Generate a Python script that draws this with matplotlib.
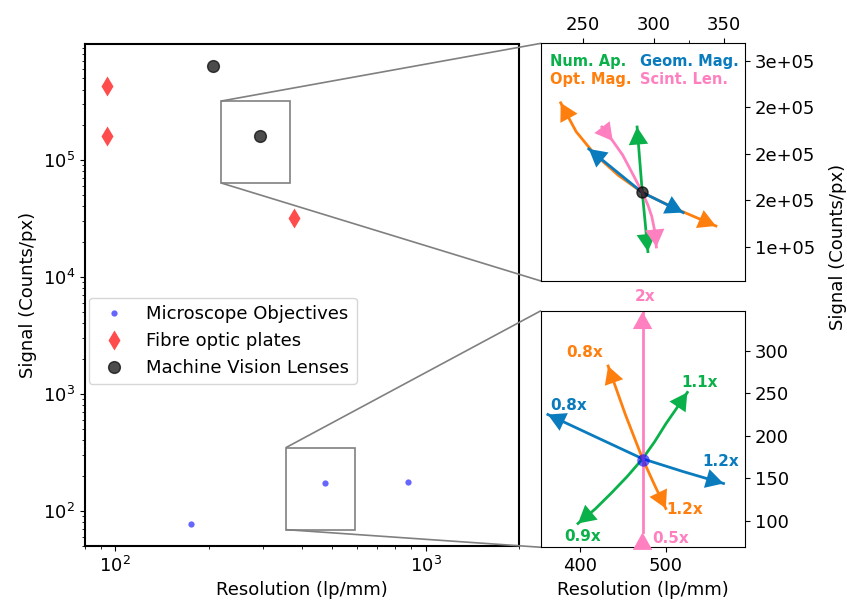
import numpy as np
import matplotlib
matplotlib.use('Agg')
import matplotlib.pyplot as plt
from matplotlib.ticker import FormatStrFormatter
from mpl_toolkits.axes_grid1.inset_locator import mark_inset

plt.rcParams['font.size'] = 13

#main data
obj_res = [176, 473, 877]
obj_sig = [77, 172, 176]
fop_res = [94, 94, 378]
fop_sig = [4.25e5, 1.61e5, 3.2e4]
mvl_res = [206.6, 292]
mvl_sig = [6.3e5, 1.586e5]

#colours for the parameter sweeps
c_na = '#0ab14a'
c_gm = '#0a7bbd'
c_om = '#ff7f0e'
c_sl = '#ff80c0'

#machine vision lens sweeps (top inset)
mv_na_x = [288.3, 292, 296]
mv_na_y = [2.29e5, 1.586e5, 0.95e5]
mv_gm_x = [254, 292, 321]
mv_gm_y = [2.054e5, 1.586e5, 1.37e5]
mv_om_x = [234, 245, 258, 275, 292, 316, 344.3]
mv_om_y = [2.55e5, 2.24e5, 2.0e5, 1.77e5, 1.586e5, 1.41e5, 1.226e5]
mv_sl_x = [263.3, 271, 278, 285, 292, 296, 298.7, 301, 302]
mv_sl_y = [2.29e5, 2.14e5, 1.99e5, 1.79e5, 1.586e5, 1.45e5, 1.33e5, 1.16e5, 1.0e5]

#microscope objective sweeps (bottom inset)
mo_na_x = [398, 418, 437, 455, 473, 487, 500, 513, 525]
mo_na_y = [97, 114, 133, 152, 173, 193, 214, 233, 251]
mo_gm_x = [363, 420, 473, 520, 567]
mo_gm_y = [225, 198, 173, 158, 144]
mo_om_x = [433, 453, 473, 487, 500]
mo_om_y = [282, 225, 173, 142, 114.6]
mo_sl_x = [473, 473, 473]
mo_sl_y = [86.5, 173, 346]


def head(ax, xy, xytext, c):
    #arrow head only, tip at xy
    ax.annotate('', xy=xy, xytext=xytext, annotation_clip=False,
                arrowprops=dict(arrowstyle='-|>,head_length=0.45,head_width=0.25',
                                color=c, lw=0, mutation_scale=28,
                                shrinkA=0, shrinkB=0))


def sweep(ax, x, y, c, both=True):
    ax.plot(x, y, color=c, lw=2, zorder=2)
    head(ax, (x[-1], y[-1]), (x[-2], y[-2]), c)
    if both:
        head(ax, (x[0], y[0]), (x[1], y[1]), c)


fig = plt.figure(figsize=(8.47, 6.06), dpi=100)
ax = fig.add_axes([0.1004, 0.099, 0.5124, 0.8284])

ax.plot(obj_res, obj_sig, 'o', color='blue', alpha=0.6, ms=4.5, mec='none',
        label='Microscope Objectives')
ax.plot(fop_res, fop_sig, 'd', color='red', alpha=0.7, ms=10.5, mec='none',
        label='Fibre optic plates')
ax.plot(mvl_res, mvl_sig, 'o', color='black', alpha=0.7, ms=8.5,
        label='Machine Vision Lenses')
ax.set_xscale('log')
ax.set_yscale('log')
ax.set_xlim(80, 2000)
ax.set_ylim(50, 9.8e5)
ax.set_xlabel('Resolution (lp/mm)')
ax.set_ylabel('Signal (Counts/px)')
ax.legend(loc='upper left', bbox_to_anchor=(0.0, 0.502), borderaxespad=0.2)
for s in ax.spines.values():
    s.set_linewidth(1.5)

#top inset
ax1 = fig.add_axes([0.6387, 0.5363, 0.2409, 0.3922])
sweep(ax1, mv_om_x, mv_om_y, c_om)
sweep(ax1, mv_gm_x, mv_gm_y, c_gm)
sweep(ax1, mv_na_x, mv_na_y, c_na)
ax1.plot(mv_sl_x, mv_sl_y, color=c_sl, lw=2, zorder=2)
head(ax1, (mv_sl_x[1], mv_sl_y[1]), (mv_sl_x[0], mv_sl_y[0]), c_sl)
head(ax1, (mv_sl_x[-1], mv_sl_y[-1]), (mv_sl_x[-2], mv_sl_y[-2]), c_sl)
ax1.plot(mvl_res[1], mvl_sig[1], 'o', color='black', alpha=0.7, ms=8, zorder=3)
ax1.set_xlim(220, 365)
ax1.set_ylim(0.634e5, 3.19e5)
ax1.xaxis.tick_top()
ax1.yaxis.tick_right()
ax1.set_xticks([250, 300, 350])
ax1.set_xticks([325], minor=True)
ax1.set_yticks([1e5, 1.5e5, 2e5, 2.5e5, 3e5])
ax1.yaxis.set_major_formatter(FormatStrFormatter('%.0e'))
kw = dict(transform=ax1.transAxes, fontsize=10.5, fontweight='bold', va='center')
ax1.text(0.044, 0.922, 'Num. Ap.', color=c_na, **kw)
ax1.text(0.485, 0.922, 'Geom. Mag.', color=c_gm, **kw)
ax1.text(0.044, 0.848, 'Opt. Mag.', color=c_om, **kw)
ax1.text(0.485, 0.848, 'Scint. Len.', color=c_sl, **kw)

#bottom inset
ax2 = fig.add_axes([0.6387, 0.0969, 0.2409, 0.3904])
sweep(ax2, mo_gm_x, mo_gm_y, c_gm)
sweep(ax2, mo_na_x, mo_na_y, c_na)
sweep(ax2, mo_om_x, mo_om_y, c_om)
ax2.plot(mo_sl_x, mo_sl_y, color=c_sl, lw=2, zorder=2)
head(ax2, (mo_sl_x[-1], mo_sl_y[-1]), (mo_sl_x[-2], mo_sl_y[-2]), c_sl)
head(ax2, (mo_sl_x[0], mo_sl_y[0]), (mo_sl_x[0], 60), c_sl)
ax2.plot(obj_res[1], obj_sig[1], 'o', color='blue', alpha=0.6, ms=9, mec='none', zorder=3)
ax2.set_xlim(355, 592)
ax2.set_ylim(69, 347)
ax2.yaxis.tick_right()
ax2.set_xticks([400, 500])
ax2.set_yticks([100, 150, 200, 250, 300])
ax2.set_xlabel('Resolution (lp/mm)')
kw = dict(fontsize=11, fontweight='bold', ha='center', va='center', clip_on=False)
ax2.text(476, 364, '2x', color=c_sl, **kw)
ax2.text(406, 298, '0.8x', color=c_om, **kw)
ax2.text(539, 263, '1.1x', color=c_na, **kw)
ax2.text(387, 236, '0.8x', color=c_gm, **kw)
ax2.text(564, 169.6, '1.2x', color=c_gm, **kw)
ax2.text(522, 113.4, '1.2x', color=c_om, **kw)
ax2.text(403, 82, '0.9x', color=c_na, **kw)
kw['ha'] = 'left'
ax2.text(484, 79, '0.5x', color=c_sl, **kw)

fig.text(0.989, 0.592, 'Signal (Counts/px)', rotation=90, ha='center', va='center')

mark_inset(ax, ax1, loc1=2, loc2=3, fc='none', ec='0.5', lw=1.2)
mark_inset(ax, ax2, loc1=2, loc2=3, fc='none', ec='0.5', lw=1.2)

plt.savefig('out.png', dpi=100)
